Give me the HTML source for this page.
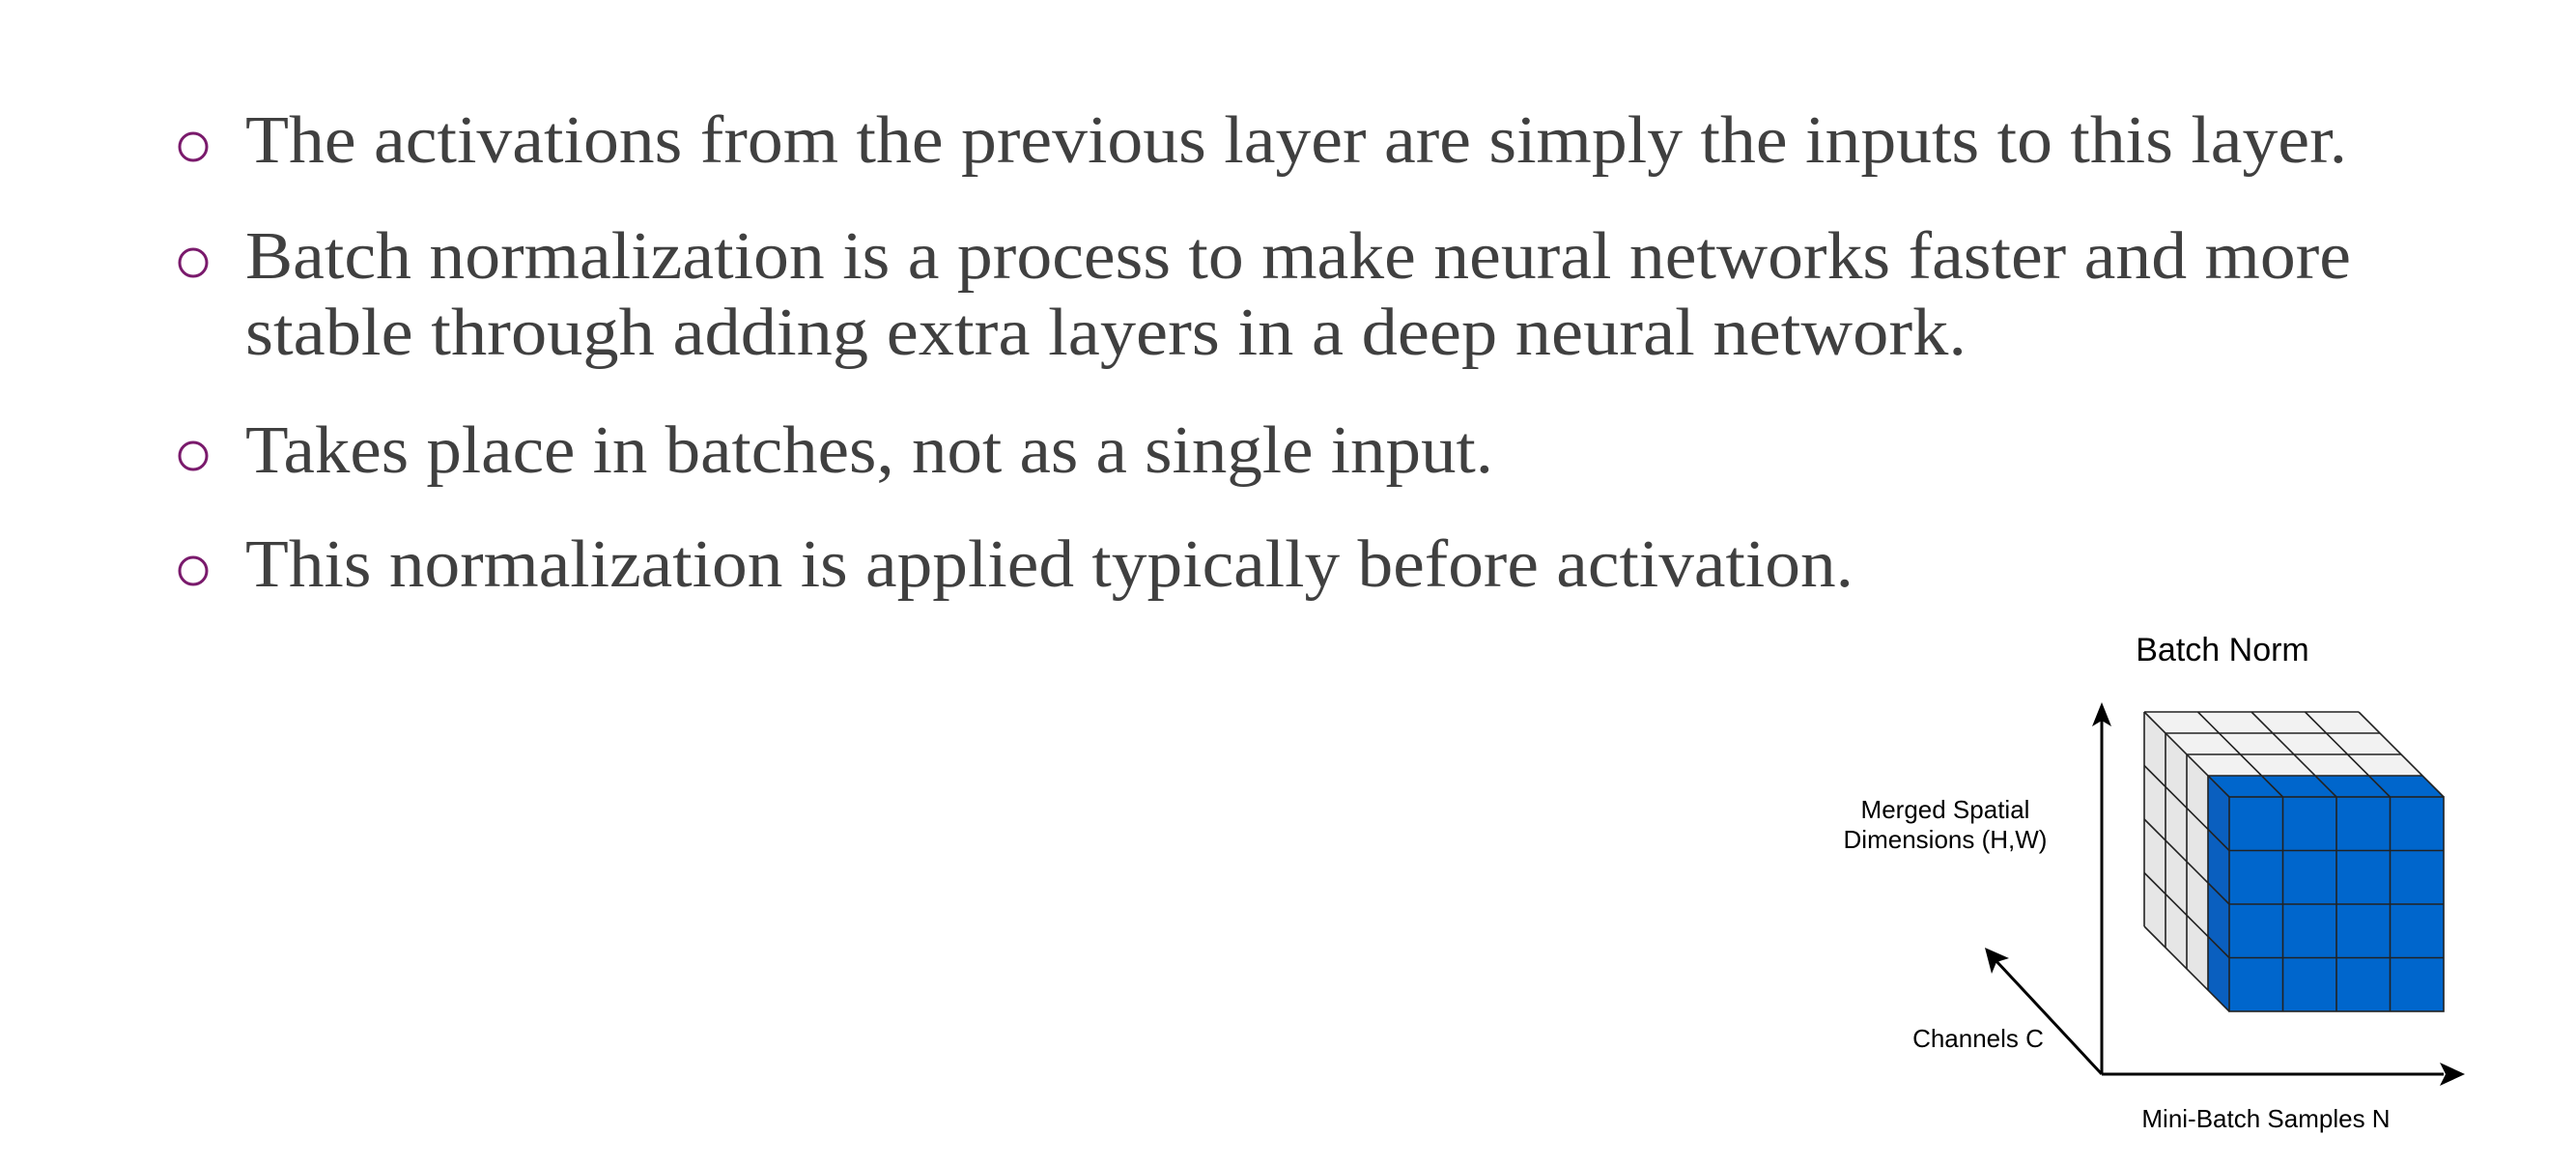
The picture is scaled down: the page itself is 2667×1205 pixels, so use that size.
<!DOCTYPE html>
<html><head><meta charset="utf-8"><style>
html,body{margin:0;padding:0;background:#fff;width:2667px;height:1205px;overflow:hidden}
svg{display:block}
</style></head><body>
<svg width="2667" height="1205" viewBox="0 0 2667 1205" xmlns="http://www.w3.org/2000/svg">
<rect width="2667" height="1205" fill="#fff"/>
<g fill="none" stroke="#7a1a6c" stroke-width="3">
<circle cx="200" cy="152" r="14"/>
<circle cx="200" cy="272" r="14"/>
<circle cx="200" cy="472" r="14"/>
<circle cx="200" cy="591" r="14"/>
</g>
<g font-family="'Liberation Serif', serif" font-size="70" fill="#404040">
<text x="254" y="168" textLength="2176" lengthAdjust="spacingAndGlyphs">The activations from the previous layer are simply the inputs to this layer.</text>
<text x="254" y="288" textLength="2180" lengthAdjust="spacingAndGlyphs">Batch normalization is a process to make neural networks faster and more</text>
<text x="254" y="367" textLength="1782" lengthAdjust="spacingAndGlyphs">stable through adding extra layers in a deep neural network.</text>
<text x="254" y="489" textLength="1292" lengthAdjust="spacingAndGlyphs">Takes place in batches, not as a single input.</text>
<text x="254" y="607" textLength="1665" lengthAdjust="spacingAndGlyphs">This normalization is applied typically before activation.</text>
</g>
<g font-family="'Liberation Sans', sans-serif" fill="#000" text-anchor="middle">
<text x="2301" y="684" font-size="34">Batch Norm</text>
<text x="2014" y="847" font-size="26">Merged Spatial</text>
<text x="2014" y="878" font-size="26">Dimensions (H,W)</text>
<text x="2048" y="1084" font-size="26">Channels C</text>
<text x="2346" y="1167" font-size="26">Mini-Batch Samples N</text>
</g>
<g stroke="#000" stroke-width="3" fill="none">
<line x1="2176" y1="1112" x2="2176" y2="745"/>
<line x1="2176" y1="1112" x2="2530" y2="1112"/>
<line x1="2176" y1="1112" x2="2066" y2="994"/>
</g>
<g fill="#000">
<polygon points="2176,727 2166,752 2176,746 2186,752"/>
<polygon points="2552,1112 2526,1100 2532,1112 2526,1124"/>
<polygon points="2055,981 2062,1008 2067,996 2080,992"/>
</g>
<polygon points="2220,737 2308,825 2308,1047 2220,959" fill="#e6e6e6"/>
<polygon points="2220,737 2442,737 2530,825 2308,825" fill="#f2f2f2"/>
<polygon points="2286,803 2308,825 2308,1047 2286,1025" fill="#0a5fbf"/>
<polygon points="2286,803 2508,803 2530,825 2308,825" fill="#0066cc"/>
<rect x="2308" y="825" width="222" height="222" fill="#0066cc"/>
<g stroke="#222" stroke-width="1.6" fill="none">
<line x1="2220" y1="737" x2="2220" y2="959"/>
<line x1="2242" y1="759" x2="2242" y2="981"/>
<line x1="2264" y1="781" x2="2264" y2="1003"/>
<line x1="2286" y1="803" x2="2286" y2="1025"/>
<line x1="2220" y1="737" x2="2308" y2="825"/>
<line x1="2220" y1="792.5" x2="2308" y2="880.5"/>
<line x1="2220" y1="848" x2="2308" y2="936"/>
<line x1="2220" y1="903.5" x2="2308" y2="991.5"/>
<line x1="2220" y1="959" x2="2308" y2="1047"/>
<line x1="2275.5" y1="737" x2="2363.5" y2="825"/>
<line x1="2331" y1="737" x2="2419" y2="825"/>
<line x1="2386.5" y1="737" x2="2474.5" y2="825"/>
<line x1="2442" y1="737" x2="2530" y2="825"/>
<line x1="2220" y1="737" x2="2442" y2="737"/>
<line x1="2242" y1="759" x2="2464" y2="759"/>
<line x1="2264" y1="781" x2="2486" y2="781"/>
<line x1="2286" y1="803" x2="2508" y2="803"/>
<rect x="2308" y="825" width="222" height="222"/>
<line x1="2363.5" y1="825" x2="2363.5" y2="1047"/>
<line x1="2419" y1="825" x2="2419" y2="1047"/>
<line x1="2474.5" y1="825" x2="2474.5" y2="1047"/>
<line x1="2308" y1="880.5" x2="2530" y2="880.5"/>
<line x1="2308" y1="936" x2="2530" y2="936"/>
<line x1="2308" y1="991.5" x2="2530" y2="991.5"/>
</g>
</svg>
</body></html>
